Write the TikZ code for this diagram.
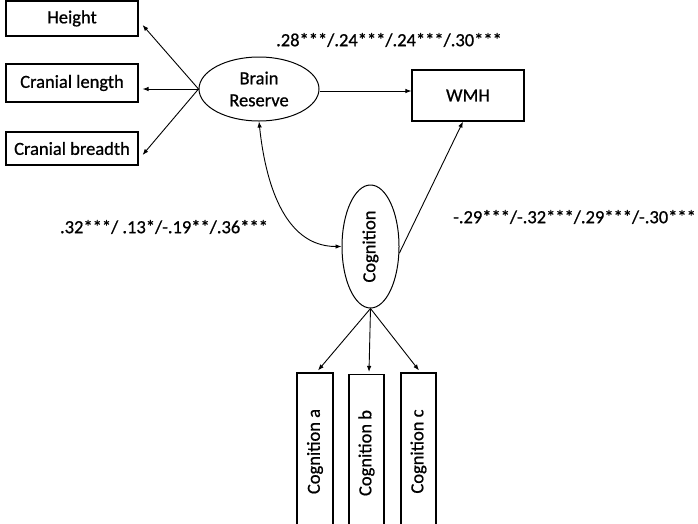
\documentclass[tikz,border=0pt]{standalone}
\usepackage{fontspec}
\setmainfont{Carlito}[FakeBold=0.8]
\usetikzlibrary{arrows.meta,shapes.geometric,calc}
\begin{document}
\begin{tikzpicture}[x=1pt,y=-1pt,
  txt/.style={font=\fontsize{18.5}{22}\selectfont, inner sep=0pt},
  box/.style={txt, draw, line width=1.1pt, minimum width=132pt, minimum height=35pt},
  vbox/.style={txt, draw, line width=1.1pt, rotate=90, minimum width=157pt, minimum height=36pt},
  lat/.style={txt, draw, line width=1pt, ellipse, align=center},
  arr/.style={line width=0.9pt, -{Latex[length=6pt,width=4.5pt]}},
  darr/.style={line width=0.9pt, {Latex[length=6pt,width=4.5pt]}-{Latex[length=6pt,width=4.5pt]}}
]
\clip (0,0) rectangle (698,523);
\fill[white] (0,0) rectangle (698,523);

\node[box] (H) at (72,18.5) {Height};
\node[box, minimum height=38pt] (CL) at (72,83) {Cranial length};
\node[box, minimum height=33pt] (CB) at (72,148.5) {Cranial breadth};

\node[lat, minimum width=120pt, minimum height=64pt] (BR) at (259,89) {Brain\\Reserve};
\node[box, minimum width=112pt, minimum height=51pt] (W) at (468,95.5) {WMH};

\node[lat, rotate=90, minimum width=123pt, minimum height=57pt] (COG) at (370.5,246.5) {Cognition};

\node[vbox] (CA) at (315,451.5) {Cognition a};
\node[vbox, minimum height=35pt] (CBB) at (366.5,453) {Cognition b};
\node[vbox, minimum height=35pt] (CC) at (418.5,451.5) {Cognition c};

\node[txt] (L1) at (389,40) {.28***/.24***/.24***/.30***};
\node[txt] (L2) at (164,227) {.32***/ .13*/-.19**/.36***};
\node[txt, anchor=west] (L3) at (453,217) {-.29***/-.32***/.29***/-.30***};

\draw[arr] (BR.west) -- ([xshift=4pt,yshift=-6.5pt]H.east);
\draw[arr] (BR.west) -- ([xshift=4pt]CL.east |- BR.west);
\draw[arr] (BR.west) -- ([xshift=4pt,yshift=-6.5pt]CB.east);
\draw[arr] ([yshift=-2pt]BR.east) -- ([yshift=-2pt]BR.east -| W.west);
\draw[darr] (BR.south) to[out=-84,in=180] (COG.north);
\draw[arr] (COG.-103) -- ([xshift=-5pt]W.south);
\draw[arr] (COG.west) -- ([xshift=3pt,yshift=2pt]CA.east);
\draw[arr] (COG.west) -- ([xshift=2.5pt,yshift=2pt]CBB.east);
\draw[arr] (COG.west) -- ([xshift=0.5pt,yshift=2pt]CC.east);
\end{tikzpicture}
\end{document}
